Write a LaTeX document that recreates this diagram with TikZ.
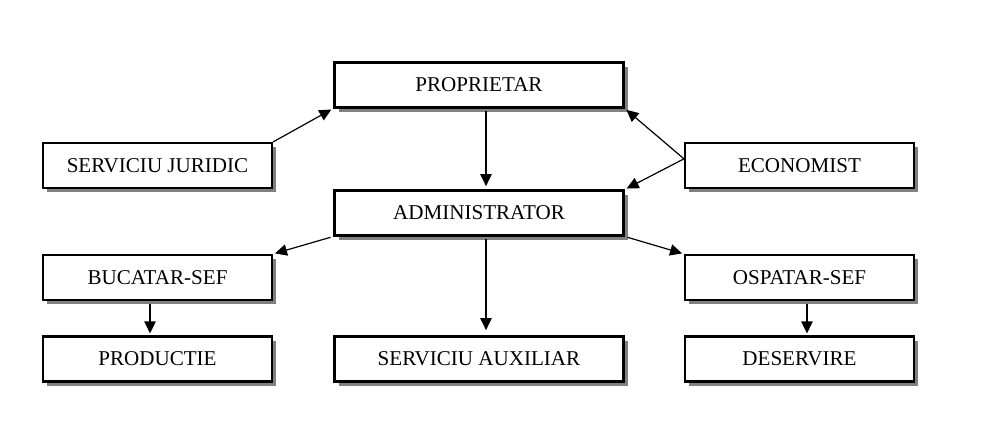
\documentclass[tikz,border=0pt]{standalone}
\usepackage{fontspec}
\setmainfont{Liberation Serif}
\usetikzlibrary{arrows.meta,shadows}
\begin{document}
\begin{tikzpicture}[x=0.75pt,y=-0.75pt,
    box/.style={draw,line width=1.8pt,fill=white,minimum height=33.5pt,inner sep=0pt,
      drop shadow={shadow xshift=3.2pt,shadow yshift=-3.2pt,fill=gray,opacity=1},
      font=\fontsize{15.8}{18}\selectfont},
    widebox/.style={box,minimum width=217pt},
    smallbox/.style={box,minimum width=171.5pt},
    link/.style={-{Triangle[length=9pt,width=8.5pt]},line width=0.9pt,shorten >=1.5pt}]
  \useasboundingbox (0,0) rectangle (1007,434);

  % Middle column
  \node[widebox] (prop) at (479,85) {PROPRIETAR};
  \node[widebox] (adm) at (479,213) {ADMINISTRATOR};
  \node[widebox] (aux) at (479,359) {SERVICIU AUXILIAR};

  % Left column
  \node[smallbox] (jur) at (157.5,165.5) {SERVICIU JURIDIC};
  \node[smallbox] (buc) at (157.5,277.5) {BUCATAR-SEF};
  \node[smallbox] (prod) at (157.5,359) {PRODUCTIE};

  % Right column
  \node[smallbox] (eco) at (799.5,165.5) {ECONOMIST};
  \node[smallbox] (osp) at (799.5,277.5) {OSPATAR-SEF};
  \node[smallbox] (des) at (799.5,359) {DESERVIRE};

  % Connectors
  \draw[link] (jur.north east) -- (prop.south west);
  \draw[link] ([yshift=5pt]eco.west) -- (prop.south east);
  \draw[link] ([yshift=5pt]eco.west) -- (adm.north east);
  \draw[link,shorten <=2pt,shorten >=2.5pt] ([xshift=5.25pt]prop.south) -- ([xshift=5.25pt]adm.north);
  \draw[link,shorten <=2pt,shorten >=4pt] ([xshift=5.25pt]adm.south) -- ([xshift=5.25pt]aux.north);
  \draw[link,shorten <=2pt] (adm.south west) -- (buc.north east);
  \draw[link,shorten <=2pt] (adm.south east) -- (osp.north west);
  \draw[link,shorten <=2pt] ([xshift=-5.6pt]buc.south) -- ([xshift=-5.6pt]prod.north);
  \draw[link,shorten <=2pt] ([xshift=5.6pt]osp.south) -- ([xshift=5.6pt]des.north);
\end{tikzpicture}
\end{document}
